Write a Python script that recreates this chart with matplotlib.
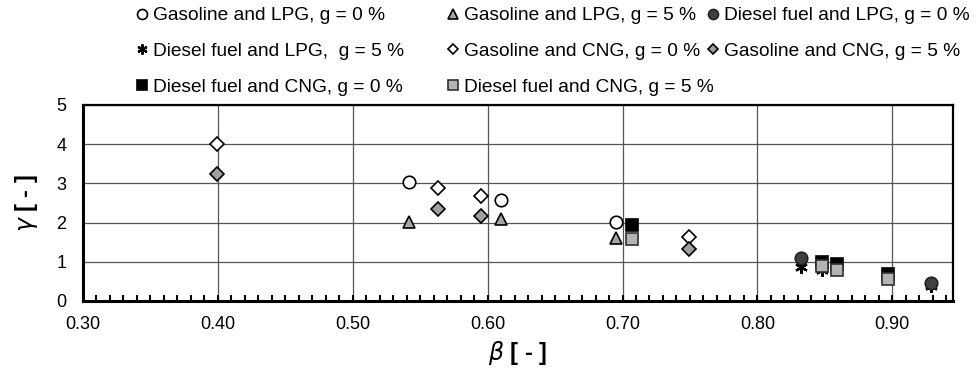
import matplotlib.pyplot as plt
from matplotlib.ticker import MultipleLocator

plt.rcParams['font.family'] = ['Liberation Sans', 'DejaVu Sans']

# beta, gamma values
gl0_beta = [0.542, 0.610, 0.695]
gl0_gamma = [3.03, 2.58, 2.02]
gl5_beta = [0.542, 0.610, 0.695]
gl5_gamma = [2.02, 2.08, 1.61]
dl0_beta = [0.832, 0.929]
dl0_gamma = [1.10, 0.47]
dl5_beta = [0.832, 0.848, 0.929]
dl5_gamma = [0.87, 0.80, 0.37]
gc0_beta = [0.399, 0.563, 0.595, 0.749]
gc0_gamma = [4.01, 2.89, 2.69, 1.64]
gc5_beta = [0.399, 0.563, 0.595, 0.749]
gc5_gamma = [3.24, 2.34, 2.17, 1.33]
dc0_beta = [0.707, 0.848, 0.859, 0.897]
dc0_gamma = [1.93, 1.00, 0.94, 0.70]
dc5_beta = [0.707, 0.848, 0.859, 0.897]
dc5_gamma = [1.57, 0.88, 0.79, 0.55]

fig = plt.figure(figsize=(9.8, 3.71), dpi=100)
ax = fig.add_axes([0.0847, 0.1887, 0.8877, 0.5283])

ew = 1.2
h = {}
h['gl0'] = ax.plot(gl0_beta, gl0_gamma, 'o', ms=9, mfc='white', mec='black', mew=ew, ls='none',
                   label='Gasoline and LPG, g = 0 %')[0]
h['gl5'] = ax.plot(gl5_beta, gl5_gamma, '^', ms=9, mfc='#a6a6a6', mec='black', mew=ew, ls='none',
                   label='Gasoline and LPG, g = 5 %')[0]
h['gc0'] = ax.plot(gc0_beta, gc0_gamma, 'D', ms=7, mfc='white', mec='black', mew=ew, ls='none',
                   label='Gasoline and CNG, g = 0 %')[0]
h['gc5'] = ax.plot(gc5_beta, gc5_gamma, 'D', ms=7, mfc='#a0a0a0', mec='black', mew=ew, ls='none',
                   label='Gasoline and CNG, g = 5 %')[0]
h['dl5'] = ax.plot(dl5_beta, dl5_gamma, marker=(6, 2, 0), ms=9, mec='black', mew=1.6, ls='none',
                   label='Diesel fuel and LPG,  g = 5 %')[0]
h['dl0'] = ax.plot(dl0_beta, dl0_gamma, 'o', ms=9, mfc='#404040', mec='#202020', mew=ew, ls='none',
                   label='Diesel fuel and LPG, g = 0 %')[0]
h['dc0'] = ax.plot(dc0_beta, dc0_gamma, 's', ms=8.5, mfc='black', mec='black', mew=ew, ls='none',
                   label='Diesel fuel and CNG, g = 0 %')[0]
h['dc5'] = ax.plot(dc5_beta, dc5_gamma, 's', ms=8.5, mfc='#b4b4b4', mec='#303030', mew=ew, ls='none',
                   label='Diesel fuel and CNG, g = 5 %')[0]

ax.set_xlim(0.30, 0.945)
ax.set_ylim(0, 5)
ax.xaxis.set_major_locator(MultipleLocator(0.1))
ax.xaxis.set_minor_locator(MultipleLocator(0.01))
ax.yaxis.set_major_locator(MultipleLocator(1))
ax.xaxis.set_major_formatter(plt.FormatStrFormatter('%.2f'))
ax.grid(True, which='major', color='#555555', lw=0.9)
ax.set_axisbelow(True)
ax.tick_params(axis='x', which='both', direction='in', length=4, width=1.5, labelsize=13, pad=11)
ax.tick_params(axis='y', which='major', length=0, labelsize=13, pad=12)
for side in ['left', 'bottom']:
    ax.spines[side].set_linewidth(2.2)
for side in ['top', 'right']:
    ax.spines[side].set_linewidth(1.6)

ax.set_xlabel(r'$\beta$ [ - ]', fontsize=17, fontweight='bold', labelpad=4)
ax.set_ylabel(r'$\gamma$ [ - ]', fontsize=17, fontweight='bold', labelpad=12)

# legend: three columns placed separately, like the Excel legend
columns = [['gl0', 'dl5', 'dc0'], ['gl5', 'gc0', 'dc5'], ['dl0', 'gc5']]
col_x = [0.139, 0.456, 0.7216]
for keys, x0 in zip(columns, col_x):
    fig.legend([h[k] for k in keys], [h[k].get_label() for k in keys],
               loc='upper left', bbox_to_anchor=(x0, 0.981), frameon=False, fontsize=13.8,
               borderpad=0, borderaxespad=0, handlelength=0.6, handletextpad=0.3,
               labelspacing=0.95, markerscale=0.8)

fig.savefig('out.png', dpi=100)
